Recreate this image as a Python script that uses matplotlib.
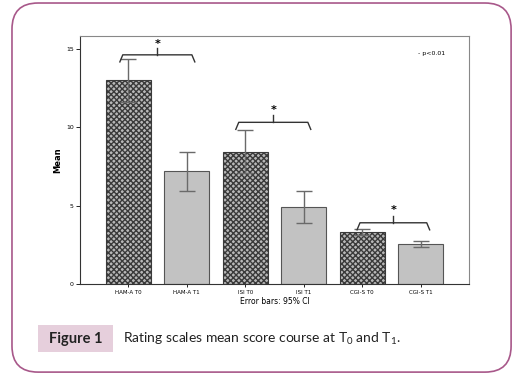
import matplotlib.pyplot as plt
import numpy as np
from matplotlib.patches import FancyBboxPatch, Rectangle

plt.rcParams['mathtext.fontset'] = 'custom'
plt.rcParams['mathtext.rm'] = 'Lato'
plt.rcParams['hatch.color'] = '#3a3a3a'

labels = ["HAM-A T0", "HAM-A T1", "ISI T0", "ISI T1", "CGI-S T0", "CGI-S T1"]
means = [13.0, 7.2, 8.4, 4.9, 3.3, 2.55]
ci_low = [11.6, 5.9, 7.1, 3.9, 3.15, 2.35]
ci_high = [14.35, 8.4, 9.8, 5.9, 3.5, 2.75]
hatched = [True, False, True, False, True, False]
# brackets: (left, right, line level, star level)
brackets = [(-0.14, 1.14, 14.6, 15.3), (1.84, 3.12, 10.3, 11.1), (3.91, 5.15, 3.9, 4.7)]

fig = plt.figure(figsize=(5.21, 3.77), dpi=100)

# rounded outer frame
frame = FancyBboxPatch((0.023, 0.013), 0.958, 0.979, boxstyle="round,pad=0,rounding_size=0.05",
                       transform=fig.transFigure, fill=False, edgecolor='#a8588a', linewidth=1.2,
                       mutation_aspect=521 / 377)
fig.patches.append(frame)

ax = fig.add_axes([0.1536, 0.2467, 0.7464, 0.6578])
x = np.arange(len(labels))
for i in range(len(labels)):
    if hatched[i]:
        ax.bar(x[i], means[i], 0.77, color='#b8b8b8', edgecolor='#3a3a3a', hatch='xxxxxx', linewidth=0.8)
    else:
        ax.bar(x[i], means[i], 0.77, color='#c2c2c2', edgecolor='#555555', linewidth=0.8)
err = [np.array(means) - np.array(ci_low), np.array(ci_high) - np.array(means)]
ax.errorbar(x, means, yerr=err, fmt='none', ecolor='#6a6a6a', elinewidth=1.0, capsize=6, capthick=1.0)

for (l, r, y, s) in brackets:
    m = (l + r) / 2
    ax.plot([l, l + 0.05, r - 0.05, r], [y - 0.45, y, y, y - 0.45], color='#333333', lw=1.0)
    ax.plot([m, m], [y, y + 0.45], color='#333333', lw=1.0)
    ax.text(m, s, "*", ha='center', va='center', fontsize=8, fontweight='bold')

ax.text(0.94, 0.93, "- p<0.01", transform=ax.transAxes, ha='right', va='center', fontsize=4.5)

ax.set_xlim(-0.82, 5.82)
ax.set_ylim(0, 15.8)
ax.set_yticks([0, 5, 10, 15])
ax.set_xticks(x)
ax.set_xticklabels(labels, fontsize=4)
ax.tick_params(axis='y', labelsize=4.5, length=3, width=0.6, pad=1.5)
ax.tick_params(axis='x', length=2, width=0.6, pad=2)
for sp in ax.spines.values():
    sp.set_color('#888888')
    sp.set_linewidth(0.8)
ax.spines['left'].set_color('#333333')
ax.spines['bottom'].set_color('#333333')
ax.set_ylabel("Mean", fontsize=6, fontweight='bold', labelpad=3)
ax.set_xlabel("Error bars: 95% CI", fontsize=5.5, labelpad=2)

# caption
fig.patches.append(Rectangle((0.073, 0.066), 0.144, 0.072, transform=fig.transFigure,
                             facecolor='#e6cfdc', edgecolor='none'))
fig.text(0.145, 0.101, "Figure 1", ha='center', va='center', fontsize=10.5, fontweight='bold',
         family='Lato', color='#222222')
fig.text(0.236, 0.101, r"Rating scales mean score course at T$_{0}$ and T$_{1}$.", ha='left',
         va='center', fontsize=10, family='Lato', color='#222222')

fig.savefig("out.png", dpi=100)
